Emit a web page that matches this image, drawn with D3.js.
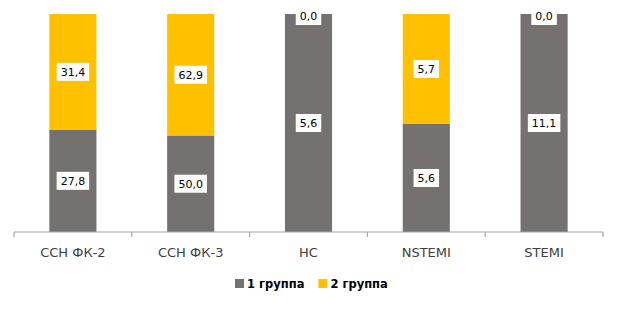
<!DOCTYPE html>
<html>
<head>
<meta charset="utf-8">
<script src="https://d3js.org/d3.v7.min.js"></script>
<style>
body { margin: 0; background: #fff; }
</style>
</head>
<body>
<div id="chart-area"></div>
<script>
// data
var categories = ["ССН ФК-2", "ССН ФК-3", "НС", "NSTEMI", "STEMI"];
var seriesNames = ["1 группа", "2 группа"];
var group1 = [27.8, 50.0, 5.6, 5.6, 11.1];
var group2 = [31.4, 62.9, 0.0, 5.7, 0.0];
var colors = ["#767171", "#FFC000"];

var width = 619, height = 313;
var svg = d3.select("#chart-area")
	.append("svg")
	.attr("width", width)
	.attr("height", height);

var rows = categories.map((c, i) => {
	var r = {cat: c};
	r[seriesNames[0]] = group1[i];
	r[seriesNames[1]] = group2[i];
	return r;
});

var stack = d3.stack()
	.keys(seriesNames)
	.offset(d3.stackOffsetExpand);
var layers = stack(rows);

var x = d3.scaleBand()
	.domain(categories)
	.range([14, 603])
	.padding(0);

var y = d3.scaleLinear()
	.domain([0, 1])
	.range([232, 14]);

var barW = x.bandwidth() * 0.4;

// bars
var g = svg.append("g");
layers.forEach((layer, li) => {
	g.selectAll("rect.s" + li)
		.data(layer)
		.enter()
		.append("rect")
		.attr("class", "s" + li)
		.attr("x", (d) => x(d.data.cat) + x.bandwidth() / 2 - barW / 2)
		.attr("y", (d) => y(d[1]))
		.attr("width", barW)
		.attr("height", (d) => y(d[0]) - y(d[1]))
		.attr("fill", colors[li]);
});

// axis
var axisG = svg.append("g").attr("transform", "translate(0," + y(0) + ")");
axisG.append("line")
	.attr("x1", x.range()[0]).attr("x2", x.range()[1])
	.attr("stroke", "#A6A6A6").attr("stroke-width", 1.2);
var bounds = categories.map((c) => x(c)).concat([x.range()[1]]);
axisG.selectAll("line.tick")
	.data(bounds)
	.enter()
	.append("line")
	.attr("class", "tick")
	.attr("x1", (d) => d).attr("x2", (d) => d)
	.attr("y1", 0).attr("y2", 5)
	.attr("stroke", "#A6A6A6").attr("stroke-width", 1.2);

axisG.selectAll("text.cat")
	.data(categories)
	.enter()
	.append("text")
	.attr("class", "cat")
	.attr("x", (d) => x(d) + x.bandwidth() / 2)
	.attr("y", 25)
	.attr("text-anchor", "middle")
	.attr("font-family", "DejaVu Sans, Verdana, sans-serif")
	.attr("font-size", "13px")
	.attr("fill", "#404040")
	.text((d) => d);

// value labels
var fmt = (v) => v.toFixed(1).replace(".", ",");
layers.forEach((layer, li) => {
	layer.forEach((d, i) => {
		var v = li === 0 ? group1[i] : group2[i];
		var cx = x(d.data.cat) + x.bandwidth() / 2;
		var cy = (y(d[0]) + y(d[1])) / 2;
		if (d[1] - d[0] === 0) cy += 2;
		var lg = svg.append("g").attr("transform", "translate(" + cx + "," + cy + ")");
		var t = lg.append("text")
			.attr("text-anchor", "middle")
			.attr("dy", "0.35em")
			.attr("font-family", "DejaVu Sans, Verdana, sans-serif")
			.attr("font-size", "11px")
			.attr("fill", "#000")
			.text(fmt(v));
		var bb = t.node().getBBox();
		lg.insert("rect", "text")
			.attr("x", bb.x - 4)
			.attr("y", -9)
			.attr("width", bb.width + 8)
			.attr("height", 18)
			.attr("fill", "#fff");
	});
});

// legend
var legend = svg.append("g").attr("transform", "translate(235,284)");
var lx = 0;
seriesNames.forEach((n, i) => {
	var it = legend.append("g").attr("transform", "translate(" + lx + ",0)");
	it.append("rect")
		.attr("x", 0).attr("y", -5)
		.attr("width", 9).attr("height", 9)
		.attr("fill", colors[i]);
	var tx = it.append("text")
		.attr("x", 12)
		.attr("dy", "0.35em")
		.attr("font-family", "DejaVu Sans, Verdana, sans-serif")
		.attr("font-size", "11.5px")
		.attr("font-weight", "bold")
		.attr("fill", "#000")
		.text(n);
	lx += 12 + tx.node().getComputedTextLength() + 14;
});
</script>
</body>
</html>
